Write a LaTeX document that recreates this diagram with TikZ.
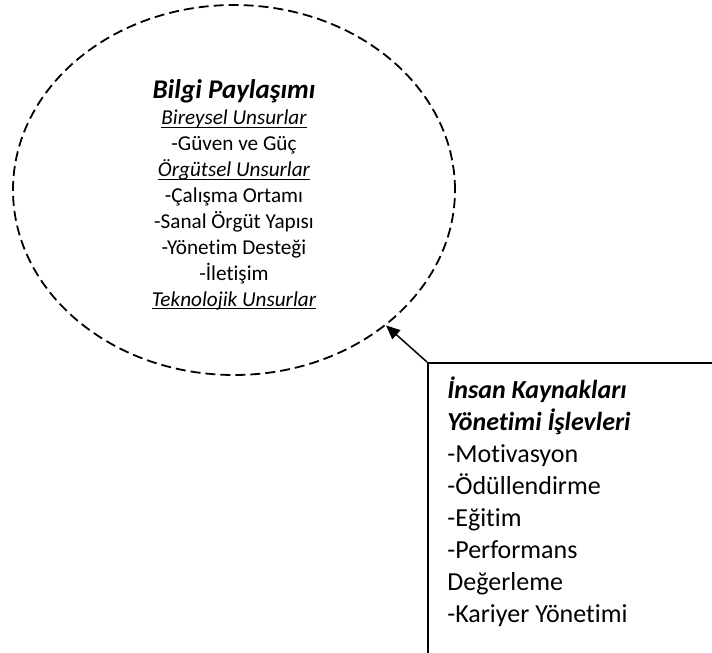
\documentclass[tikz,border=0pt]{standalone}
\usepackage{fontspec}
\setmainfont{Carlito}[Ligatures={NoCommon,NoRequired,NoContextual}]
\usetikzlibrary{shapes.geometric,arrows.meta}
\newcommand{\unsur}[1]{\underline{\smash{\itshape #1}}}

\begin{document}
\begin{tikzpicture}[x=0.5pt,y=-0.5pt]
\tikzstyle{konu}=[draw, ellipse, dash pattern=on 5pt off 2.5pt, line width=0.9pt, inner sep=0pt, minimum width=221pt, minimum height=185pt, align=center, font=\fontsize{10.6}{12.95}\selectfont]
\tikzstyle{kutu}=[draw, rectangle, line width=0.75pt, anchor=north west, minimum width=300pt, minimum height=300pt]
\tikzstyle{liste}=[anchor=base west, inner sep=0pt, text width=130pt, align=flush left, font=\fontsize{13}{16.05}\selectfont]

\useasboundingbox (0,0) rectangle (712,653);
\clip (0,0) rectangle (712,653);

\node[konu] (bp) at (234,190) {};
\node[align=center, inner sep=0pt, font=\fontsize{10.6}{12.95}\selectfont] (bpyazi) at (234,195) {{\fontsize{13.5}{16}\selectfont\bfseries\itshape Bilgi Paylaşımı}\\
  \unsur{Bireysel Unsurlar}\\
  -Güven ve Güç\\
  \unsur{Örgütsel Unsurlar}\\
  -Çalışma Ortamı\\
  -Sanal Örgüt Yapısı\\
  -Yönetim Desteği\\
  -İletişim\\
  \unsur{Teknolojik Unsurlar}};
\node[kutu] (ikbox) at (427,362) {};
\node[liste] (iky) at (447,398) {{\bfseries\itshape İnsan Kaynakları}\\
  {\bfseries\itshape Yönetimi İşlevleri}\\
  -Motivasyon\\
  -Ödüllendirme\\
  -Eğitim\\
  -Performans\\
  Değerleme\\
  -Kariyer Yönetimi};

\draw[-{Triangle[length=7pt,width=6pt]}, line width=0.75pt] (ikbox.north west) -- (bp);
\end{tikzpicture}
\end{document}
